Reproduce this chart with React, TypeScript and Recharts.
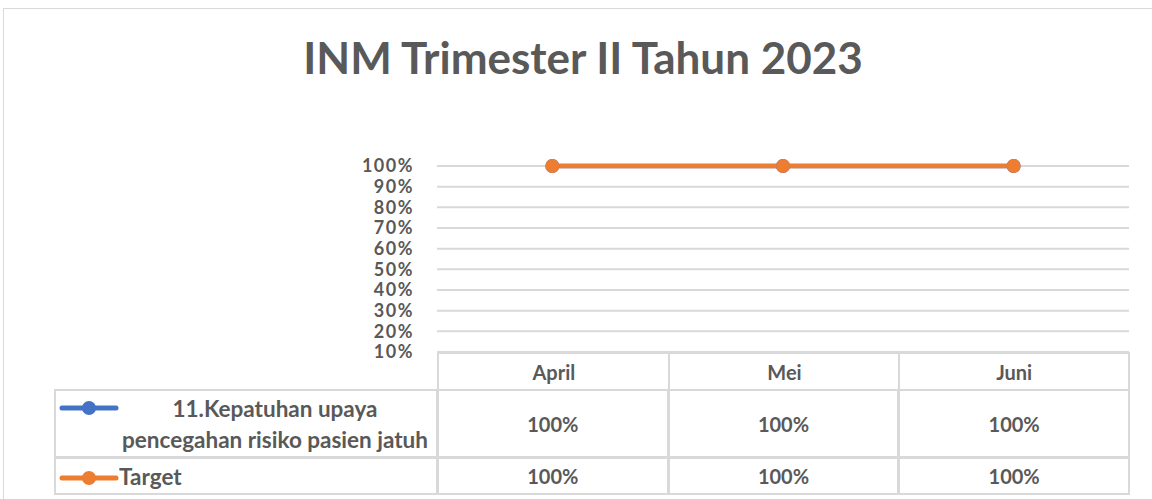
import { CartesianGrid, Line, LineChart, XAxis, YAxis } from 'recharts'

const months = ['April', 'Mei', 'Juni']
const kepatuhanValues = [1, 1, 1]
const targetValues = [1, 1, 1]
const yTicks = [0.1, 0.2, 0.3, 0.4, 0.5, 0.6, 0.7, 0.8, 0.9, 1]

const seriesNames = ['11.Kepatuhan upaya pencegahan risiko pasien jatuh', 'Target']
const seriesColors = ['#4472C4', '#ED7D31']

const data = months.map((m, i) => ({
  month: m,
  kepatuhan: kepatuhanValues[i],
  target: targetValues[i],
}))

const FONT = 'Lato, "Open Sans", sans-serif'
const TEXT = '#595959'
const GRID = '#d9d9d9'

const W = 1152
const H = 499
const PLOT_LEFT = 437
const PLOT_RIGHT = 1129
const PLOT_TOP = 166
const PLOT_BOTTOM = 352
const Y_AXIS_W = 60
const COL_W = (PLOT_RIGHT - PLOT_LEFT) / months.length

const fmtPct = (v: number) => `${Math.round(v * 100)}%`

function LegendKey({ color }: { color: string }) {
  return (
    <svg width={60} height={16} style={{ display: 'block' }}>
      <line x1={3} y1={8} x2={57} y2={8} stroke={color} strokeWidth={5} strokeLinecap="round" />
      <circle cx={30} cy={8} r={7} fill={color} />
    </svg>
  )
}

function DataTable() {
  const rows = [
    { top: 389, bottom: 457, values: kepatuhanValues },
    { top: 457, bottom: 494, values: targetValues },
  ]
  const border = `2px solid ${GRID}`
  const cell: React.CSSProperties = {
    position: 'absolute',
    boxSizing: 'border-box',
    display: 'flex',
    alignItems: 'center',
    justifyContent: 'center',
    fontFamily: FONT,
    fontWeight: 700,
    fontSize: 20,
    color: TEXT,
  }
  return (
    <>
      {months.map((m, i) => (
        <div
          key={m}
          style={{
            ...cell,
            left: PLOT_LEFT + i * COL_W,
            top: PLOT_BOTTOM,
            width: COL_W + 1,
            height: 389 - PLOT_BOTTOM + 1,
            borderLeft: border,
            borderRight: i === months.length - 1 ? border : undefined,
            borderTop: border,
          }}
        >
          {m}
        </div>
      ))}
      {rows.map((r, ri) => (
        <div key={ri}>
          <div
            style={{
              ...cell,
              left: 54,
              top: r.top,
              width: PLOT_LEFT - 54 + 1,
              height: r.bottom - r.top + 1,
              border,
              justifyContent: 'flex-start',
              fontSize: 22.5,
            }}
          >
            <div style={{ position: 'absolute', left: 3, top: ri === 0 ? 9 : (r.bottom - r.top) / 2 - 8 }}>
              <LegendKey color={seriesColors[ri]} />
            </div>
            {ri === 0 ? (
              <div style={{ position: 'absolute', left: 58, right: 0, textAlign: 'center', lineHeight: '31px', top: 2 }}>
                11.Kepatuhan upaya
                <br />
                pencegahan risiko pasien jatuh
              </div>
            ) : (
              <div style={{ position: 'absolute', left: 63 }}>{seriesNames[1]}</div>
            )}
          </div>
          {r.values.map((v, i) => (
            <div
              key={i}
              style={{
                ...cell,
                left: PLOT_LEFT + i * COL_W,
                top: r.top,
                width: COL_W + 1,
                height: r.bottom - r.top + 1,
                border,
              }}
            >
              {fmtPct(v)}
            </div>
          ))}
        </div>
      ))}
    </>
  )
}

export default function App() {
  return (
    <div
      style={{
        position: 'fixed',
        left: 0,
        top: 0,
        width: W,
        height: H,
        background: '#fff',
        overflow: 'hidden',
      }}
    >
      <div
        style={{
          position: 'absolute',
          left: 3,
          top: 8,
          width: W + 20,
          height: H + 20,
          border: `1.5px solid ${GRID}`,
        }}
      />
      <div
        style={{
          position: 'absolute',
          left: 0,
          top: 31,
          width: 1166,
          textAlign: 'center',
          fontFamily: FONT,
          fontWeight: 700,
          fontSize: 44,
          color: TEXT,
        }}
      >
        INM Trimester II Tahun 2023
      </div>
      <div style={{ position: 'absolute', left: 0, top: 0 }}>
        <LineChart
          width={W}
          height={H}
          data={data}
          margin={{
            top: PLOT_TOP,
            bottom: H - PLOT_BOTTOM,
            left: PLOT_LEFT - Y_AXIS_W,
            right: W - PLOT_RIGHT,
          }}
        >
          <CartesianGrid horizontal vertical={false} stroke={GRID} strokeWidth={2} />
          <XAxis
            dataKey="month"
            hide
            padding={{ left: COL_W / 2, right: COL_W / 2 }}
          />
          <YAxis
            width={Y_AXIS_W}
            domain={[0.1, 1]}
            ticks={yTicks}
            interval={0}
            axisLine={false}
            tickLine={false}
            tickMargin={17}
            tickFormatter={fmtPct}
            tick={{ fill: TEXT, fontSize: 18, fontWeight: 700, fontFamily: FONT, letterSpacing: 1.5 }}
          />
          <Line
            dataKey="kepatuhan"
            name={seriesNames[0]}
            stroke={seriesColors[0]}
            strokeWidth={4.5}
            dot={{ r: 7, fill: seriesColors[0], stroke: seriesColors[0], strokeWidth: 0 }}
            isAnimationActive={false}
          />
          <Line
            dataKey="target"
            name={seriesNames[1]}
            stroke={seriesColors[1]}
            strokeWidth={4.5}
            dot={{ r: 7, fill: seriesColors[1], stroke: seriesColors[1], strokeWidth: 0 }}
            isAnimationActive={false}
          />
        </LineChart>
      </div>
      <DataTable />
    </div>
  )
}
